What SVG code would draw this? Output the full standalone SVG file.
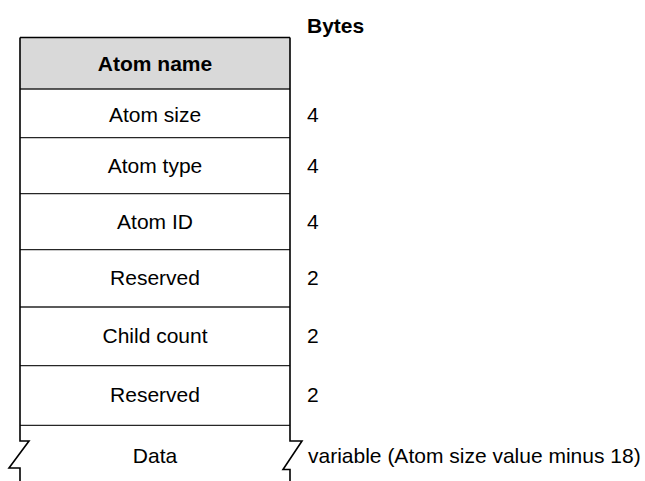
<svg xmlns="http://www.w3.org/2000/svg" width="645" height="481" viewBox="0 0 645 481">
  <style>
    .lbl { font-family: "Liberation Sans", Arial, sans-serif; font-size: 21px; fill: #000; }
    .mid { text-anchor: middle; }
    .bold { font-weight: bold; }
    .sep { stroke: #262626; stroke-width: 1.3; fill: none; }
    .edge { stroke: #000; stroke-width: 1.6; fill: none; stroke-linejoin: miter; }
  </style>
  <rect width="645" height="481" fill="#fff"/>

  <!-- column heading -->
  <text class="lbl bold" x="307" y="33">Bytes</text>

  <!-- header cell -->
  <g id="atom-name">
    <rect x="20" y="37.5" width="270" height="51.5" fill="#d9d9d9"/>
    <text class="lbl bold mid" x="155" y="70.5">Atom name</text>
  </g>

  <g id="atom-size">
    <text class="lbl mid" x="155" y="121.5">Atom size</text>
    <text class="lbl" x="307" y="121.5">4</text>
  </g>
  <g id="atom-type">
    <text class="lbl mid" x="155" y="173">Atom type</text>
    <text class="lbl" x="307" y="173">4</text>
  </g>
  <g id="atom-id">
    <text class="lbl mid" x="155" y="229">Atom ID</text>
    <text class="lbl" x="307" y="229">4</text>
  </g>
  <g id="reserved-1">
    <text class="lbl mid" x="155" y="285">Reserved</text>
    <text class="lbl" x="307" y="285">2</text>
  </g>
  <g id="child-count">
    <text class="lbl mid" x="155" y="343">Child count</text>
    <text class="lbl" x="307" y="343">2</text>
  </g>
  <g id="reserved-2">
    <text class="lbl mid" x="155" y="402">Reserved</text>
    <text class="lbl" x="307" y="402">2</text>
  </g>
  <g id="data">
    <text class="lbl mid" x="155" y="463">Data</text>
    <text class="lbl" x="308" y="463">variable (Atom size value minus 18)</text>
  </g>

  <!-- row separators and outline with break marks on the open-ended data field -->
  <g id="connectors">
    <path class="sep" d="M20,89 H290 M20,137.7 H290 M20,193.7 H290 M20,249.7 H290 M20,307 H290 M20,365.7 H290 M20,425.3 H290"/>
    <path class="edge" d="M20,37.5 H290"/>
    <path class="edge" d="M20,37.5 V441 H29 L9,468 H20 V481"/>
    <path class="edge" d="M290,37.5 V441 H302 L283,469.5 H290 V481"/>
  </g>
</svg>
